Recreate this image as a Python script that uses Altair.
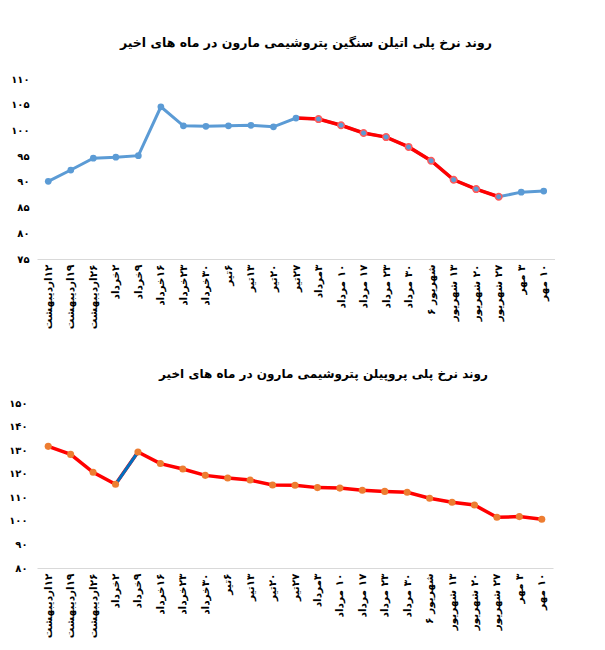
import altair as alt
import pandas as pd

categories = ["۱۲اردیبهشت", "۱۹اردیبهشت", "۲۶اردیبهشت", "۲خرداد", "۹خرداد", "۱۶خرداد",
              "۲۳خرداد", "۳۰خرداد", "۶تیر", "۱۳تیر", "۲۰تیر", "۲۷تیر", "۳مرداد",
              "۱۰ مرداد", "۱۷ مرداد", "۲۳ مرداد", "۳۰ مرداد", "شهریور ۶", "۱۳ شهریور",
              "۲۰ شهریور", "۲۷ شهریور", "۳ مهر", "۱۰ مهر"]

pe_values = [90.1, 92.3, 94.6, 94.8, 95.1, 104.6, 100.9, 100.8, 100.9, 101.0, 100.7, 102.4,
             102.2, 101.0, 99.5, 98.7, 96.8, 94.1, 90.4, 88.6, 87.1, 88.0, 88.2]
pp_values = [131.6, 128.2, 120.6, 115.5, 129.2, 124.3, 122.0, 119.3, 118.2, 117.3, 115.2, 115.1,
             114.1, 113.9, 113.0, 112.5, 112.1, 109.6, 107.9, 106.7, 101.5, 101.8, 100.7]

# highlighted segment (first index, last index)
pe_red_segment = [11, 20]
pp_blue_segment = [3, 4]

pe_ticks = [75, 80, 85, 90, 95, 100, 105, 110]
pp_ticks = [80, 90, 100, 110, 120, 130, 140, 150]

pe_title = "روند نرخ پلی اتیلن سنگین پتروشیمی مارون در ماه های اخیر"
pp_title = "روند نرخ پلی پروپیلن پتروشیمی مارون در ماه های اخیر"

FONT = "DejaVu Sans"
to_fa = str.maketrans("0123456789", "۰۱۲۳۴۵۶۷۸۹")


def fa_label_expr(ticks):
    expr = "''"
    for t in reversed(ticks):
        expr = f"datum.value == {t} ? '{str(t).translate(to_fa)}' : ({expr})"
    return expr


def frame(values):
    return pd.DataFrame({"cat": categories, "value": values, "idx": list(range(len(values)))})


def x_enc():
    return alt.X("cat:N", sort=categories, scale=alt.Scale(domain=categories, padding=0.5),
                 axis=alt.Axis(title=None, labelAngle=270, labelExpr="'\u200f' + datum.label",
                               labelFont=FONT, labelFontSize=10.5, labelFontWeight="bold",
                               labelColor="#000000", ticks=False, domainColor="#D9D9D9",
                               labelPadding=5, labelLimit=200))


def y_enc(ticks, pad):
    return alt.Y("value:Q", scale=alt.Scale(domain=[ticks[0], ticks[-1]], nice=False, zero=False),
                 axis=alt.Axis(title=None, values=ticks, labelExpr=fa_label_expr(ticks), grid=False,
                               domain=False, ticks=False, labelFont=FONT, labelFontSize=10,
                               labelFontWeight="bold", labelColor="#000000", labelPadding=pad))


pe = frame(pe_values)
pp = frame(pp_values)

PE_PAD = 8
PP_PAD = 10

pe_red = pe[(pe.idx >= pe_red_segment[0]) & (pe.idx <= pe_red_segment[1])]
pe_mark_hl = pe[(pe.idx > pe_red_segment[0]) & (pe.idx <= pe_red_segment[1])]
pe_mark_plain = pe[~pe.idx.isin(pe_mark_hl.idx)]

top = alt.layer(
    alt.Chart(pe).mark_line(color="#5B9BD5", strokeWidth=3).encode(x=x_enc(), y=y_enc(pe_ticks, PE_PAD)),
    alt.Chart(pe_red).mark_line(color="#FF0000", strokeWidth=3.5).encode(x=x_enc(), y=y_enc(pe_ticks, PE_PAD)),
    alt.Chart(pe_mark_plain).mark_circle(color="#5B9BD5", size=45, opacity=1).encode(x=x_enc(), y=y_enc(pe_ticks, PE_PAD)),
    alt.Chart(pe_mark_hl).mark_point(shape="circle", filled=True, fill="#5B9BD5", stroke="#FF5A5A",
                                     strokeWidth=1.5, size=42, opacity=1).encode(x=x_enc(), y=y_enc(pe_ticks, PE_PAD)),
).properties(
    width=518, height=180,
    title=alt.TitleParams(pe_title, font=FONT, fontSize=12.5, fontWeight="bold", color="#000000",
                          anchor="end", dx=-63, offset=25),
)

pp_blue = pp[(pp.idx >= pp_blue_segment[0]) & (pp.idx <= pp_blue_segment[1])]
bottom = alt.layer(
    alt.Chart(pp).mark_line(color="#FF0000", strokeWidth=3.5).encode(x=x_enc(), y=y_enc(pp_ticks, PP_PAD)),
    alt.Chart(pp_blue).mark_line(color="#0070C0", strokeWidth=3).encode(x=x_enc(), y=y_enc(pp_ticks, PP_PAD)),
    alt.Chart(pp).mark_circle(color="#ED7D31", size=50, opacity=1).encode(x=x_enc(), y=y_enc(pp_ticks, PP_PAD)),
).properties(
    width=516, height=165,
    title=alt.TitleParams(pp_title, font=FONT, fontSize=12, fontWeight="bold", color="#000000",
                          anchor="end", dx=-65, offset=17),
)

chart = alt.vconcat(top, bottom, spacing=39).properties(
    padding={"left": 0, "top": 28, "right": 0, "bottom": 0}
).configure_view(stroke=None)

chart.save("out.html", embed_options={"renderer": "svg", "actions": False})
